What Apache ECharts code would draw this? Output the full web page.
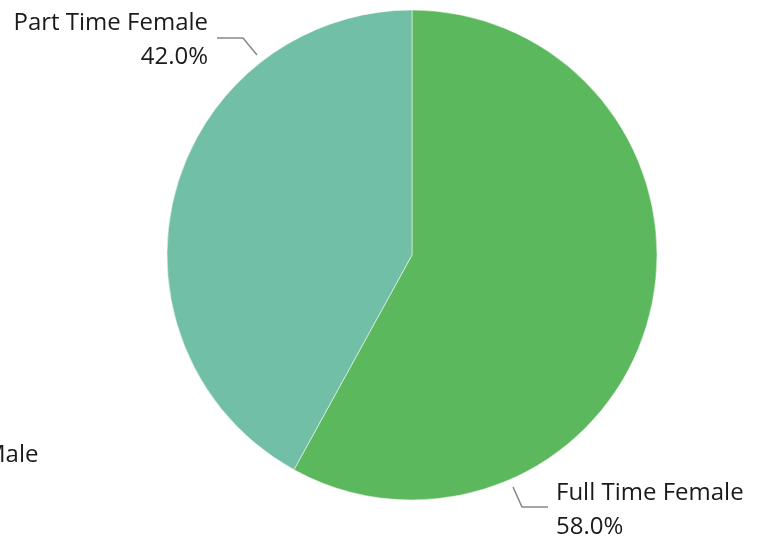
<html>
  <head>
    <script src="https://cdn.jsdelivr.net/npm/echarts@6.0.0/dist/echarts.min.js"></script>
    <title>Female employment</title>
  </head>
  <body style="margin:0; background-color:#ffffff;">
    <div id="chart" style="width:760px; height:541px;"></div>
    <script>
      const categories = ['Full Time Female', 'Part Time Female']
      const shares = [58.0, 42.0]
      const colors = ['#5cb85c', '#72bfa7']
      const fontFamily = '"Open Sans", "Noto Sans", sans-serif'

      // where each label sits (the source chart did not place them at mid-angle)
      const labelSpots = [
        { x: 556, y: 510, align: 'left', line: [[513, 487], [522, 507], [548, 507]] },
        { x: 208, y: 40, align: 'right', line: [[257, 55], [243, 38], [217, 38]] }
      ]

      const chart = echarts.init(document.getElementById('chart'))

      const option = {
        backgroundColor: '#ffffff',
        animation: false,
        graphic: [
          {
            type: 'text',
            left: -16,
            top: 436,
            style: { text: 'Male', fontSize: 24, fontFamily: fontFamily, fill: '#1a1a1a' }
          }
        ],
        series: [
          {
            type: 'pie',
            center: [412, 255],
            radius: 245,
            startAngle: 90,
            clockwise: true,
            data: categories.map((c, i) => ({
              name: c,
              value: shares[i],
              itemStyle: { color: colors[i] }
            })),
            itemStyle: { borderColor: '#ffffff', borderWidth: 0.5 },
            label: {
              formatter: p => p.name + '\n' + p.value.toFixed(1) + '%',
              fontSize: 24,
              lineHeight: 34,
              fontFamily: fontFamily,
              color: '#1a1a1a',
              overflow: 'none'
            },
            labelLine: {
              lineStyle: { color: '#888', width: 1.5 }
            },
            labelLayout: params => {
              const s = labelSpots[params.dataIndex]
              return {
                x: s.x,
                y: s.y,
                align: s.align,
                verticalAlign: 'middle',
                labelLinePoints: s.line
              }
            },
            emphasis: { disabled: true }
          }
        ]
      }

      chart.setOption(option)
    </script>
  </body>
</html>
